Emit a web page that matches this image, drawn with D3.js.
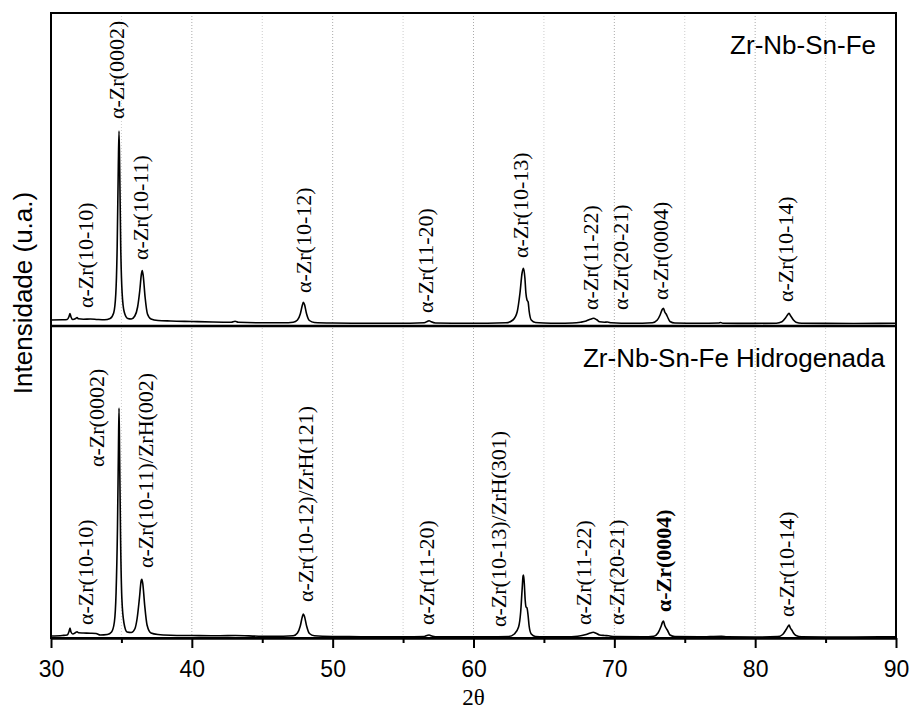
<!DOCTYPE html>
<meta charset="utf-8">
<script src="https://cdn.jsdelivr.net/npm/d3@7"></script>
<style>
body { margin: 0; background: #fff; }
.curve { fill: none; stroke: #000; stroke-width: 1.6px; stroke-linejoin: round; }
.grid { stroke: #aaa; stroke-width: 1px; stroke-dasharray: 1,2; }
.grid.minor { stroke: #ccc; }
.peak { font-family: "Liberation Serif", "Times New Roman", serif; font-size: 22px; fill: #000; }
.title { font-family: "Liberation Sans", Arial, sans-serif; font-size: 26px; fill: #000; }
.axis text { font-family: "Liberation Sans", Arial, sans-serif; font-size: 23px; fill: #000; }
.axis path, .axis line { stroke: #000; stroke-width: 2px; }
</style>
<body>
<div id="chart"></div>
<script>
// XRD pattern, Zr-Nb-Sn-Fe as received: [2theta, intensity a.u.]
var seriesTop = [
  [30.0, 60], [30.8, 62], [31.15, 65], [31.28, 95], [31.35, 125], [31.42, 90], [31.55, 65],
  [31.75, 75], [31.85, 85], [31.95, 72], [32.3, 68], [32.8, 70], [33.3, 65], [33.8, 62],
  [34.2, 75], [34.45, 130], [34.6, 320], [34.7, 800], [34.78, 1600], [34.83, 1950], [34.88, 1550],
  [34.95, 800], [35.05, 330], [35.2, 140], [35.45, 75], [35.7, 70], [35.95, 100], [36.15, 190],
  [36.3, 350], [36.42, 520], [36.48, 555], [36.55, 500], [36.68, 290], [36.85, 120], [37.1, 70],
  [37.6, 55], [38.5, 50], [40, 45], [41.5, 40], [42.8, 38], [43.07, 48], [43.3, 37], [45, 32],
  [46.5, 32], [47.2, 38], [47.5, 60], [47.7, 120], [47.85, 210], [47.92, 237], [48.0, 215],
  [48.15, 120], [48.35, 55], [48.7, 35], [50, 30], [52, 28], [54, 28], [55.5, 28], [56.5, 32],
  [56.75, 48], [56.85, 53], [57.0, 42], [57.3, 30], [59, 28], [61, 28], [62.3, 32], [62.8, 60],
  [63.1, 140], [63.3, 330], [63.45, 530], [63.55, 577], [63.65, 480], [63.72, 330], [63.8, 260],
  [63.88, 240], [63.95, 150], [64.1, 60], [64.4, 35], [65, 30], [66, 28], [67, 30], [67.6, 38],
  [68.0, 50], [68.3, 68], [68.52, 77], [68.75, 62], [68.95, 42], [69.3, 38], [69.5, 40],
  [69.8, 32], [70.5, 28], [72, 28], [72.7, 32], [73.05, 60], [73.25, 110], [73.4, 165],
  [73.49, 177], [73.58, 140], [73.68, 120], [73.78, 90], [73.95, 45], [74.3, 30], [76, 27],
  [77.4, 30], [77.55, 35], [77.7, 28], [80, 26], [81.5, 28], [81.9, 42], [82.15, 80],
  [82.32, 115], [82.41, 127], [82.5, 105], [82.6, 85], [82.72, 60], [82.9, 38], [83.3, 28],
  [85, 26], [87, 25], [90, 27]
];

// XRD pattern, hydrogenated sample
var seriesBottom = [
  [30.0, 20], [30.8, 25], [31.15, 30], [31.28, 65], [31.35, 100], [31.42, 60], [31.55, 40],
  [31.75, 55], [31.85, 63], [31.95, 52], [32.3, 50], [32.8, 48], [33.2, 45], [33.5, 30],
  [34.0, 35], [34.3, 60], [34.5, 160], [34.62, 450], [34.72, 1100], [34.79, 1900], [34.83, 2300],
  [34.87, 1850], [34.94, 1000], [35.03, 400], [35.18, 150], [35.4, 60], [35.7, 55], [35.95, 90],
  [36.12, 200], [36.28, 400], [36.4, 570], [36.45, 587], [36.52, 540], [36.65, 330], [36.82, 130],
  [37.1, 50], [37.6, 35], [38.5, 28], [40, 25], [42, 22], [43.1, 25], [45, 18], [46.5, 18],
  [47.2, 22], [47.5, 50], [47.7, 120], [47.85, 215], [47.92, 240], [48.0, 215], [48.15, 120],
  [48.35, 45], [48.7, 22], [50, 15], [52, 13], [55, 12], [56.5, 15], [56.75, 28], [56.85, 30],
  [57.0, 22], [57.3, 12], [59, 12], [61, 12], [62.5, 15], [62.9, 40], [63.2, 110], [63.35, 260],
  [63.45, 480], [63.52, 620], [63.55, 630], [63.6, 560], [63.67, 380], [63.73, 310], [63.8, 300],
  [63.88, 220], [63.95, 120], [64.1, 40], [64.4, 15], [65, 12], [66.5, 12], [67.4, 18],
  [68.0, 35], [68.3, 50], [68.5, 57], [68.7, 48], [68.95, 30], [69.3, 25], [69.6, 22], [70, 14],
  [72, 12], [72.8, 18], [73.1, 50], [73.3, 110], [73.43, 160], [73.49, 170], [73.57, 130],
  [73.67, 100], [73.78, 75], [73.95, 30], [74.3, 14], [76, 12], [77.6, 18], [78, 12], [80, 10],
  [81.6, 14], [81.95, 35], [82.2, 85], [82.35, 120], [82.41, 130], [82.5, 100], [82.6, 80],
  [82.72, 50], [82.9, 25], [83.3, 12], [85, 10], [87, 10], [90, 12]
];

// peak labels: [text, 2theta of baseline, intensity where the text starts]
var labelsTop = [
  ["α-Zr(10-10)", 32.98, 180], ["α-Zr(0002)", 35.18, 2070], ["α-Zr(10-11)", 36.89, 660],
  ["α-Zr(10-12)", 48.47, 330], ["α-Zr(11-20)", 57.13, 130], ["α-Zr(10-13)", 63.88, 680],
  ["α-Zr(11-22)", 68.85, 160], ["α-Zr(20-21)", 70.98, 160], ["α-Zr(0004)", 73.82, 260],
  ["α-Zr(10-14)", 82.7, 240]
];
var labelsBottom = [
  ["α-Zr(10-10)", 32.98, 130], ["α-Zr(0002)", 33.76, 1710], ["α-Zr(10-11)/ZrH(002)", 37.24, 700],
  ["α-Zr(10-12)/ZrH(121)", 48.61, 360], ["α-Zr(11-20)", 57.2, 130], ["α-Zr(10-13)/ZrH(301)", 62.32, 110],
  ["α-Zr(11-22)", 68.35, 130], ["α-Zr(20-21)", 70.7, 130], ["α-Zr(0004)", 74.03, 260],
  ["α-Zr(10-14)", 82.77, 210]
];

var titles = ["Zr-Nb-Sn-Fe", "Zr-Nb-Sn-Fe Hidrogenada"];
var majorTicks = [30, 40, 50, 60, 70, 80, 90];
var minorTicks = [35, 45, 55, 65, 75, 85];

var width = 911, height = 711;
var pLeft = 51, pRight = 896, pTop = 13, pMid = 326, pBottom = 638;

var svg = d3.select("#chart").append("svg")
  .attr("width", width)
  .attr("height", height);

var x = d3.scaleLinear().domain([30, 90]).range([pLeft, pRight]);
var yTop = d3.scaleLinear().domain([0, 3130]).range([pMid, pTop]);
var yBot = d3.scaleLinear().domain([0, 3120]).range([pBottom, pMid]);

// dotted vertical grid
svg.append("g").selectAll("line")
  .data(d3.range(35, 90, 5))
  .enter().append("line")
  .attr("class", function(d) { return d % 10 == 0 ? "grid" : "grid minor"; })
  .attr("x1", function(d) { return x(d); })
  .attr("x2", function(d) { return x(d); })
  .attr("y1", pTop)
  .attr("y2", pBottom);

function drawPanel(data, y, labels, title, titleX, titleY, boldLabel) {
  var line = d3.line()
    .curve(d3.curveMonotoneX)
    .x(function(d) { return x(d[0]); })
    .y(function(d) { return y(d[1]); });

  svg.append("path")
    .datum(data)
    .attr("class", "curve")
    .attr("d", line);

  svg.append("g").selectAll("text")
    .data(labels)
    .enter().append("text")
    .attr("class", "peak")
    .style("font-weight", function(d) { return d[0] == boldLabel ? "bold" : null; })
    .attr("transform", function(d) {
      return "translate(" + x(d[1]) + "," + y(d[2]) + ") rotate(-90)";
    })
    .text(function(d) { return d[0]; });

  svg.append("text")
    .attr("class", "title")
    .attr("text-anchor", "end")
    .attr("x", titleX)
    .attr("y", titleY)
    .text(title);
}

drawPanel(seriesTop, yTop, labelsTop, titles[0], 876, 54, null);
drawPanel(seriesBottom, yBot, labelsBottom, titles[1], 885, 367, "α-Zr(0004)");

// frame and divider
svg.append("rect")
  .attr("x", pLeft).attr("y", pTop)
  .attr("width", pRight - pLeft).attr("height", pBottom - pTop)
  .attr("fill", "none").attr("stroke", "#000").attr("stroke-width", 2);
svg.append("line")
  .attr("x1", pLeft).attr("x2", pRight)
  .attr("y1", pMid).attr("y2", pMid)
  .attr("stroke", "#000").attr("stroke-width", 2.5);

// x axis
svg.append("g")
  .attr("class", "axis")
  .attr("transform", "translate(0," + pBottom + ")")
  .call(d3.axisBottom(x).tickValues(majorTicks).tickSize(10).tickPadding(13).tickSizeOuter(0));
svg.append("g")
  .attr("class", "axis")
  .attr("transform", "translate(0," + pBottom + ")")
  .call(d3.axisBottom(x).tickValues(minorTicks).tickSize(5).tickFormat("").tickSizeOuter(0));

svg.append("text")
  .attr("x", (pLeft + pRight) / 2)
  .attr("y", 705)
  .attr("text-anchor", "middle")
  .style("font-family", "'Liberation Serif', 'Times New Roman', serif")
  .style("font-size", "23px")
  .text("2θ");

svg.append("text")
  .attr("transform", "translate(32,293) rotate(-90)")
  .attr("text-anchor", "middle")
  .style("font-family", "'Liberation Sans', Arial, sans-serif")
  .style("font-size", "26px")
  .text("Intensidade (u.a.)");
</script>
</body>
